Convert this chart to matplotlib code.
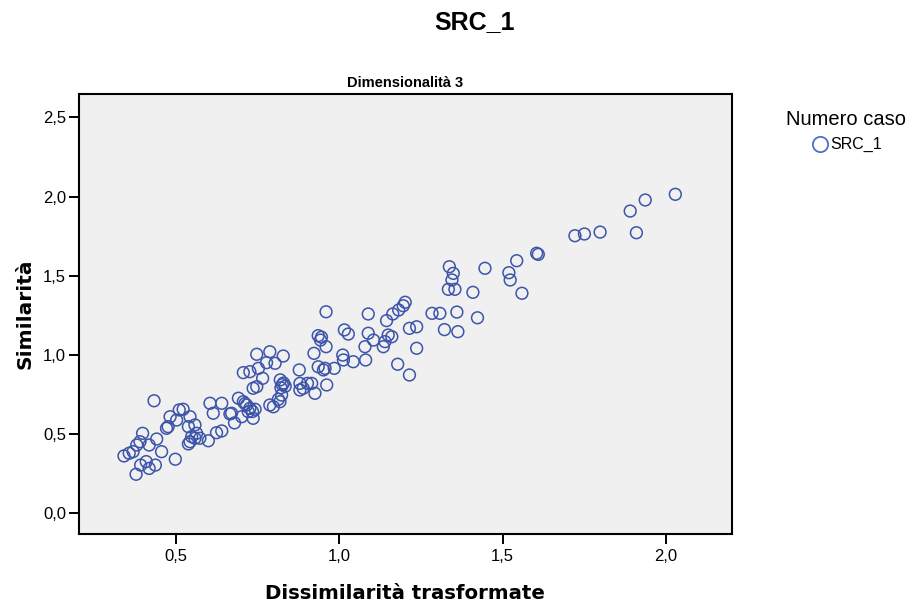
import numpy as np
import matplotlib
matplotlib.use('Agg')
import matplotlib.pyplot as plt
from matplotlib.lines import Line2D
from matplotlib.ticker import FuncFormatter

plt.rcParams['font.family'] = ['Liberation Sans', 'DejaVu Sans']

# points: (dissimilarita trasformate, similarita)
dissim = [0.342, 0.358, 0.370, 0.379, 0.391, 0.381, 0.399, 0.419, 0.442, 0.434,
          0.457, 0.499, 0.393, 0.410, 0.438, 0.419,
          0.483, 0.477, 0.472, 0.503, 0.511, 0.523,
          0.544, 0.559, 0.539, 0.564, 0.549, 0.559, 0.544, 0.574, 0.539,
          0.600, 0.605, 0.641, 0.615, 0.625, 0.641,
          0.671, 0.666, 0.680,
          0.692, 0.707, 0.717, 0.727, 0.743, 0.702, 0.737, 0.722, 0.712, 0.735,
          0.737, 0.748,
          0.788, 0.799, 0.819, 0.814, 0.824,
          0.820, 0.830, 0.822, 0.826, 0.835,
          0.880, 0.890, 0.916, 0.926, 0.880, 0.903,
          0.878, 0.962,
          0.748, 0.788, 0.829, 0.778, 0.804,
          0.707, 0.727, 0.753, 0.766,
          0.923, 0.936, 0.943, 0.946, 0.960, 0.960,
          0.936, 0.952, 0.957, 0.985,
          1.011, 1.013, 1.043, 1.081,
          1.016, 1.028, 1.089, 1.089,
          1.105, 1.135, 1.140, 1.161, 1.150, 1.079,
          1.145, 1.164, 1.182, 1.196, 1.202,
          1.215, 1.237, 1.237, 1.179, 1.215,
          1.284, 1.308, 1.360, 1.423, 1.322, 1.363,
          1.337, 1.349, 1.345, 1.334, 1.354, 1.409, 1.446,
          1.519, 1.523, 1.543, 1.604, 1.609, 1.559,
          1.721, 1.750, 1.798, 1.890, 1.936, 1.909, 2.028]
simil = [0.359, 0.376, 0.386, 0.243, 0.449, 0.428, 0.502, 0.428, 0.466, 0.708,
         0.386, 0.338, 0.301, 0.323, 0.301, 0.280,
         0.607, 0.544, 0.534, 0.586, 0.650, 0.654,
         0.607, 0.555, 0.544, 0.502, 0.481, 0.471, 0.449, 0.471, 0.435,
         0.455, 0.692, 0.692, 0.629, 0.506, 0.517,
         0.629, 0.625, 0.568,
         0.724, 0.702, 0.681, 0.660, 0.654, 0.607, 0.597, 0.639, 0.690, 0.640,
         0.787, 0.797,
         0.681, 0.670, 0.702, 0.717, 0.744,
         0.840, 0.820, 0.790, 0.810, 0.800,
         0.818, 0.787, 0.818, 0.755, 0.776, 0.818,
         0.903, 0.808,
         1.002, 1.018, 0.991, 0.949, 0.945,
         0.886, 0.892, 0.913, 0.850,
         1.008, 1.120, 1.092, 1.110, 1.050, 1.271,
         0.923, 0.903, 0.913, 0.913,
         0.997, 0.966, 0.955, 0.966,
         1.156, 1.130, 1.135, 1.257,
         1.092, 1.050, 1.082, 1.113, 1.124, 1.050,
         1.215, 1.257, 1.282, 1.309, 1.331,
         1.166, 1.176, 1.040, 0.939, 0.871,
         1.261, 1.261, 1.269, 1.233, 1.158, 1.145,
         1.556, 1.514, 1.472, 1.413, 1.413, 1.394, 1.546,
         1.518, 1.472, 1.594, 1.641, 1.634, 1.388,
         1.752, 1.763, 1.775, 1.908, 1.978, 1.771, 2.014]

xticks = [0.5, 1.0, 1.5, 2.0]
yticks = [0.0, 0.5, 1.0, 1.5, 2.0, 2.5]
blue = '#3C55AA'

fig = plt.figure(figsize=(9.13, 6.11), dpi=100)
ax = fig.add_axes([0.086, 0.126, 0.716, 0.72])
ax.set_facecolor('#F0F0F0')

ax.scatter(dissim, simil, s=72, facecolors='none', edgecolors=blue, linewidths=1.1)

ax.set_xlim(0.203, 2.202)
ax.set_ylim(-0.135, 2.648)
ax.set_xticks(xticks)
ax.set_yticks(yticks)
comma = FuncFormatter(lambda v, p: ('%.1f' % v).replace('.', ','))
ax.xaxis.set_major_formatter(comma)
ax.yaxis.set_major_formatter(comma)
ax.tick_params(direction='out', length=7.5, width=1.4, labelsize=12, colors='black', pad=1.5)
ax.tick_params(axis='x', pad=3)
for sp in ax.spines.values():
    sp.set_linewidth(1.5)

ax.set_title('Dimensionalità 3', fontsize=10.5, fontweight='bold', pad=5)
ax.set_xlabel('Dissimilarità trasformate', fontsize=14.2, fontweight='bold',
              labelpad=15, family='DejaVu Sans')
ax.set_ylabel('Similarità', fontsize=14.5, fontweight='bold', labelpad=6,
              family='DejaVu Sans')
fig.text(0.52, 0.964, 'SRC_1', fontsize=18, fontweight='bold', ha='center', va='center')

h = Line2D([], [], linestyle='none', marker='o', markersize=11,
           markerfacecolor='none', markeredgecolor='#5070C8', markeredgewidth=1.3)
leg = fig.legend([h], ['SRC_1'], title='Numero caso', loc='upper center',
                 bbox_to_anchor=(0.927, 0.838), frameon=False, fontsize=11.5,
                 title_fontsize=14.5, handletextpad=0.05, handlelength=1.2,
                 borderpad=0.2)

plt.savefig('out.png')
